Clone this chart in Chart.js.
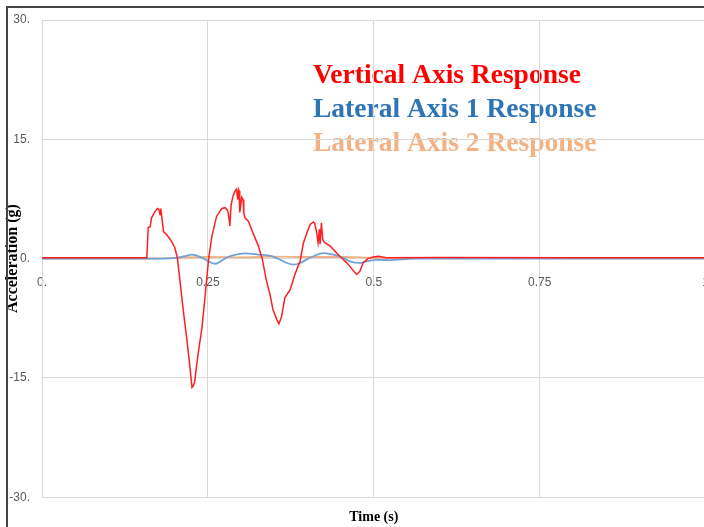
<!DOCTYPE html>
<html>
<head>
<meta charset="utf-8">
<title>Acceleration response</title>
<script src="https://cdn.jsdelivr.net/npm/chart.js@4.4.1/dist/chart.umd.min.js"></script>
<style>
  html, body { margin: 0; padding: 0; background: #fff; overflow: hidden; }
  #wrap { width: 726px; height: 527px; }
</style>
</head>
<body>
<div id="wrap"><canvas id="accelChart" width="726" height="527"></canvas></div>
<script>
// Values: time (s) and acceleration (g)
var verticalTime = [0, 0.158, 0.160, 0.163, 0.165, 0.168, 0.171, 0.174, 0.176, 0.178,
  0.179, 0.181, 0.183, 0.188, 0.195, 0.200, 0.204, 0.208, 0.213, 0.218,
  0.223, 0.226, 0.228, 0.230, 0.235, 0.241, 0.246, 0.251, 0.256, 0.263,
  0.271, 0.276, 0.280, 0.282, 0.283, 0.285, 0.288, 0.291, 0.293, 0.295,
  0.296, 0.297, 0.298, 0.301, 0.303, 0.304, 0.306, 0.311, 0.318, 0.326,
  0.332, 0.338, 0.343, 0.348, 0.354, 0.357, 0.361, 0.366, 0.374, 0.381,
  0.389, 0.394, 0.399, 0.404, 0.409, 0.411, 0.414, 0.416, 0.418, 0.419,
  0.421, 0.423, 0.426, 0.434, 0.444, 0.451, 0.459, 0.466, 0.474, 0.479,
  0.484, 0.491, 0.499, 0.507, 0.519, 0.6, 0.8, 1.0];
var verticalAccel = [0.1, 0.1, 3.9, 4.0, 5.1, 5.6, 6.0, 6.3, 6.2, 5.5,
  6.3, 4.9, 3.4, 3.0, 2.2, 1.4, 0.1, -2.9, -6.6, -10.0,
  -13.7, -16.2, -16.0, -15.5, -12.1, -8.7, -4.5, -0.1, 2.8, 5.3,
  6.3, 6.4, 6.0, 4.9, 4.1, 6.8, 7.9, 8.5, 8.7, 7.4,
  8.7, 8.5, 5.8, 7.7, 7.4, 5.8, 5.1, 4.7, 3.2, 1.6,
  -0.1, -2.7, -4.3, -6.4, -7.7, -8.2, -7.3, -4.9, -3.9, -2.0,
  -0.3, 2.0, 3.2, 4.3, 4.6, 4.4, 3.2, 2.0, 3.7, 1.8,
  4.5, 2.4, 2.0, 1.6, 0.7, 0.1, -0.5, -1.2, -2.0, -1.6,
  -0.5, 0.0, 0.2, 0.3, 0.1, 0.15, 0.1, 0.1];

var lateral1Time = [0, 0.185, 0.200, 0.215, 0.226, 0.232, 0.241, 0.249, 0.256, 0.262,
  0.269, 0.278, 0.288, 0.306, 0.326, 0.346, 0.358, 0.369, 0.379, 0.389,
  0.399, 0.409, 0.424, 0.439, 0.454, 0.464, 0.479, 0.489, 0.504, 0.524,
  0.56, 1.0];
var lateral1Accel = [0, 0, 0.05, 0.3, 0.5, 0.4, 0.1, -0.25, -0.55, -0.65,
  -0.35, 0.1, 0.4, 0.65, 0.5, 0.3, -0.1, -0.55, -0.75, -0.55,
  -0.1, 0.3, 0.7, 0.5, 0.1, -0.35, -0.55, -0.35, -0.15, -0.2,
  0, 0];

var lateral2Time = [0, 0.16, 0.2, 0.25, 0.3, 0.35, 0.4, 0.45, 0.5, 0.55, 1.0];
var lateral2Accel = [0, 0, 0.1, 0.2, 0.15, 0.25, 0.2, 0.2, 0.1, 0.05, 0.05];

var seriesLabels = ['Vertical Axis Response', 'Lateral Axis 1 Response', 'Lateral Axis 2 Response'];
var lineColors = ['#ff1f1f', '#6fa1d6', '#f2b084'];
var legendColors = ['#ff0000', '#2e75b6', '#f4b183'];
var timeTicks = [0, 0.25, 0.5, 0.75, 1];
var accelTicks = [-30, -15, 0, 15, 30];

function toPoints(xs, ys) {
  return xs.map(function(x, i) { return { x: x, y: ys[i] }; });
}

var tickFont = { family: '"Liberation Sans", Arial, sans-serif', size: 12 };
var titleFont = { family: '"Liberation Serif", "Times New Roman", serif', weight: 'bold' };
var gridColor = '#d9d9d9';

// white background + coloured legend text (under the gridlines), frame on top
var decorations = {
  id: 'decorations',
  beforeDraw: function(chart) {
    var ctx = chart.ctx;
    ctx.save();
    ctx.fillStyle = '#fff';
    ctx.fillRect(0, 0, chart.width, chart.height);
    ctx.font = 'bold 27.5px "Liberation Serif", "Times New Roman", serif';
    ctx.textBaseline = 'alphabetic';
    chart.data.datasets.forEach(function(ds, i) {
      ctx.fillStyle = legendColors[i];
      ctx.fillText(ds.label, 313, 83 + i * 34);
    });
    ctx.restore();
  },
  afterDraw: function(chart) {
    var ctx = chart.ctx;
    ctx.save();
    ctx.strokeStyle = '#444';
    ctx.lineWidth = 2;
    ctx.strokeRect(7, 7, chart.width + 20, chart.height + 20);
    ctx.restore();
  }
};

var ctx = document.getElementById('accelChart').getContext('2d');
new Chart(ctx, {
  type: 'line',
  data: {
    datasets: [
      { label: seriesLabels[0], data: toPoints(verticalTime, verticalAccel),
        borderColor: lineColors[0], borderWidth: 1.5, pointRadius: 0, tension: 0 },
      { label: seriesLabels[1], data: toPoints(lateral1Time, lateral1Accel),
        borderColor: lineColors[1], borderWidth: 1.8, pointRadius: 0, cubicInterpolationMode: 'monotone' },
      { label: seriesLabels[2], data: toPoints(lateral2Time, lateral2Accel),
        borderColor: lineColors[2], borderWidth: 1.8, pointRadius: 0, cubicInterpolationMode: 'monotone' }
    ]
  },
  options: {
    responsive: false,
    animation: false,
    layout: { padding: { left: 0, top: 20, right: 0, bottom: 0 } },
    plugins: { legend: { display: false }, tooltip: { enabled: false } },
    scales: {
      x: {
        type: 'linear',
        position: { y: 0 },
        min: 0,
        max: 1,
        afterBuildTicks: function(scale) {
          scale.ticks = timeTicks.map(function(v) { return { value: v }; });
        },
        ticks: {
          padding: 17,
          color: '#595959',
          font: tickFont,
          maxRotation: 0,
          autoSkip: false,
          callback: function(v) { return v === 0 ? '0.' : String(v); }
        },
        grid: { color: gridColor, drawTicks: false },
        border: { color: gridColor }
      },
      xTitle: {
        type: 'linear',
        axis: 'x',
        position: 'bottom',
        min: 0,
        max: 1,
        ticks: { display: false },
        grid: { display: false, drawTicks: false },
        border: { display: false },
        title: {
          display: true,
          text: 'Time (s)',
          color: '#000',
          font: Object.assign({ size: 14 }, titleFont),
          padding: { top: 12, bottom: 1 }
        }
      },
      y: {
        type: 'linear',
        position: 'left',
        min: -30,
        max: 30,
        afterBuildTicks: function(scale) {
          scale.ticks = accelTicks.map(function(v) { return { value: v }; });
        },
        afterFit: function(scale) { scale.width = 42; },
        ticks: {
          padding: 12,
          color: '#595959',
          font: tickFont,
          crossAlign: 'near',
          callback: function(v) { return v + '.'; }
        },
        grid: { color: gridColor, drawTicks: false },
        border: { color: gridColor },
        title: {
          display: true,
          text: 'Acceleration (g)',
          color: '#000',
          font: Object.assign({ size: 16 }, titleFont),
          padding: { top: 3, bottom: 0 }
        }
      }
    }
  },
  plugins: [decorations]
});
</script>
</body>
</html>
